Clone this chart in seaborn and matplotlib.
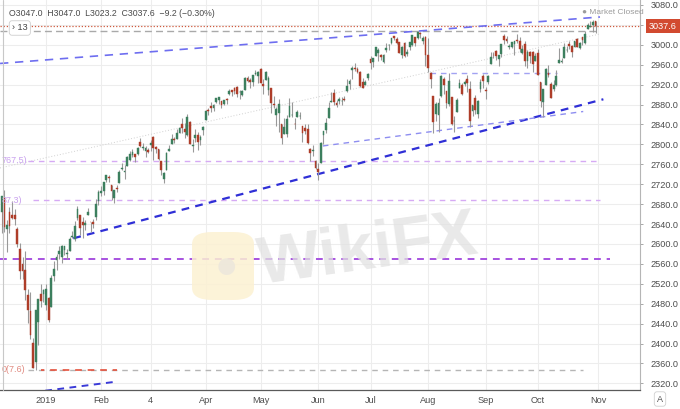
import numpy as np
import pandas as pd
import matplotlib
matplotlib.use("Agg")
import matplotlib.pyplot as plt
import matplotlib.transforms as mtransforms
from matplotlib.patches import FancyBboxPatch
import seaborn as sns

# ── DATA: S&P 500 daily candles, Dec 6 2018 -> Oct 31 2019 ───────────
HOLIDAYS = ["2018-12-25", "2019-01-01", "2019-01-21", "2019-02-18",
            "2019-04-19", "2019-05-27", "2019-07-04", "2019-09-02"]

opens = [
    # Dec 2018
    2663.5, 2691.3, 2630.9, 2664.4, 2658.2, 2658.7, 2629.7, 2590.8, 2559.9, 2547.1, 2496.8, 2465.4, 2400.6, 2363.1, 2442.5, 2498.8, 2498.9,
    # Jan
    2477.0, 2491.9, 2474.3, 2535.6, 2568.1, 2580.0, 2573.5, 2588.1, 2580.3, 2585.1, 2614.8, 2609.3, 2651.3, 2657.9, 2643.5, 2638.8, 2657.4, 2645.0, 2644.9, 2653.6, 2685.5,
    # Feb
    2702.3, 2706.5, 2728.3, 2735.1, 2717.5, 2692.4, 2712.4, 2722.6, 2750.3, 2743.5, 2757.4, 2769.3, 2779.1, 2780.7, 2780.7, 2804.4, 2792.4, 2787.5, 2788.1,
    # Mar
    2798.2, 2814.4, 2794.4, 2790.3, 2766.5, 2730.8, 2747.6, 2787.3, 2799.8, 2810.4, 2810.8, 2822.6, 2840.8, 2831.3, 2819.7, 2844.5, 2796.0, 2812.7, 2819.7, 2809.4, 2828.3,
    # Apr
    2848.6, 2868.2, 2876.1, 2874.0, 2884.2, 2888.5, 2886.6, 2881.4, 2891.9, 2900.9, 2908.3, 2912.3, 2916.0, 2904.8, 2898.8, 2910.0, 2934.0, 2929.0, 2925.8, 2940.6, 2937.1,
    # May
    2952.3, 2922.2, 2929.2, 2908.9, 2913.0, 2879.6, 2859.8, 2863.1, 2840.2, 2820.1, 2820.4, 2855.8, 2858.6, 2841.9, 2854.0, 2856.1, 2836.7, 2832.4, 2830.0, 2790.3, 2786.9, 2766.2,
    # Jun
    2751.5, 2762.6, 2818.1, 2828.5, 2852.9, 2885.8, 2903.3, 2882.7, 2886.2, 2886.8, 2889.8, 2906.7, 2920.6, 2949.6, 2952.7, 2951.4, 2945.8, 2926.1, 2919.7, 2932.9,
    # Jul
    2971.4, 2964.7, 2978.1, 2984.3, 2979.8, 2965.5, 2989.3, 2999.6, 3003.4, 3017.8, 3012.1, 3005.1, 2978.9, 3004.3, 2981.9, 2994.7, 2998.8, 3016.3, 3013.3, 3024.5, 3007.7, 3016.2,
    # Aug
    2980.3, 2943.9, 2898.1, 2861.2, 2858.7, 2896.2, 2930.5, 2907.1, 2880.7, 2894.2, 2846.2, 2864.7, 2913.5, 2919.0, 2922.0, 2930.9, 2911.1, 2866.7, 2893.1, 2861.3, 2910.4, 2937.1,
    # Sep
    2909.0, 2924.7, 2960.6, 2980.3, 2988.4, 2971.0, 2981.4, 3018.2, 3012.2, 2996.4, 2995.7, 3001.5, 3010.4, 3008.4, 2983.5, 3002.4, 2968.4, 2985.7, 2985.5, 2967.1,
    # Oct
    2983.7, 2924.8, 2885.4, 2918.6, 2944.2, 2920.4, 2911.1, 2918.6, 2963.1, 2965.8, 2973.6, 2989.7, 3000.8, 2996.8, 2996.5, 3010.7, 2994.0, 3014.8, 3003.3, 3032.1, 3035.4, 3039.7, 3047.0,
]
highs = [
    2696.1, 2708.5, 2647.5, 2674.4, 2685.4, 2670.2, 2634.0, 2601.1, 2573.0, 2585.3, 2509.6, 2504.4, 2410.3, 2467.8, 2489.1, 2520.3, 2509.2,
    2519.5, 2493.1, 2538.1, 2566.2, 2579.8, 2595.3, 2597.8, 2596.3, 2589.3, 2613.1, 2625.8, 2645.1, 2675.5, 2657.9, 2653.2, 2647.2, 2672.4, 2645.0, 2650.9, 2690.4, 2709.0,
    2716.7, 2725.0, 2739.0, 2738.1, 2719.3, 2708.1, 2718.1, 2748.2, 2761.9, 2757.9, 2775.7, 2787.3, 2789.9, 2781.6, 2794.2, 2813.5, 2803.1, 2795.8, 2793.7,
    2808.0, 2816.9, 2796.4, 2790.3, 2767.3, 2744.1, 2784.0, 2798.3, 2821.2, 2815.0, 2830.7, 2835.4, 2852.4, 2843.5, 2860.3, 2846.2, 2809.8, 2829.9, 2825.6, 2819.7, 2836.0,
    2869.4, 2872.9, 2885.3, 2881.3, 2893.2, 2896.0, 2886.9, 2889.7, 2893.4, 2910.5, 2909.6, 2916.1, 2918.0, 2908.4, 2909.5, 2936.3, 2936.8, 2933.1, 2939.9, 2949.5, 2948.2,
    2954.1, 2931.7, 2947.9, 2937.3, 2913.0, 2898.0, 2876.0, 2891.3, 2840.2, 2852.5, 2858.7, 2892.2, 2885.5, 2853.9, 2868.9, 2865.5, 2836.7, 2841.4, 2840.5, 2792.0, 2799.0, 2769.0,
    2763.1, 2804.5, 2827.3, 2852.1, 2885.0, 2904.8, 2910.6, 2888.6, 2895.2, 2894.5, 2897.3, 2930.8, 2931.7, 2958.1, 2964.2, 2954.9, 2946.5, 2932.6, 2929.3, 2944.0,
    2977.9, 2973.2, 2995.8, 2994.0, 2980.8, 2981.9, 3003.0, 3002.3, 3013.9, 3017.8, 3015.0, 3005.3, 2998.3, 3006.0, 2990.7, 3005.9, 3019.6, 3016.3, 3028.0, 3025.6, 3017.2, 3017.4,
    3013.6, 2945.5, 2898.1, 2884.4, 2892.2, 2938.7, 2935.8, 2907.6, 2943.3, 2894.2, 2856.7, 2893.6, 2931.0, 2923.6, 2928.7, 2939.1, 2927.0, 2879.3, 2898.8, 2890.0, 2930.5, 2940.4,
    2914.4, 2938.8, 2985.9, 2985.0, 2989.4, 2979.4, 3000.9, 3020.7, 3017.3, 3002.2, 3006.2, 3007.8, 3022.0, 3016.4, 2999.2, 3008.0, 2989.8, 2987.3, 2987.3, 2983.9,
    2992.5, 2924.8, 2911.1, 2953.7, 2959.8, 2925.5, 2929.3, 2948.5, 2993.3, 2972.8, 3003.3, 2997.5, 3008.3, 3000.0, 3007.3, 3014.6, 3004.8, 3016.1, 3027.4, 3044.1, 3047.9, 3050.1, 3047.0,
]
lows = [
    2621.5, 2623.1, 2583.2, 2621.3, 2650.3, 2637.3, 2593.2, 2530.5, 2528.7, 2488.0, 2441.2, 2408.6, 2351.1, 2346.6, 2397.9, 2472.9, 2482.8,
    2467.5, 2444.0, 2474.3, 2524.6, 2547.6, 2568.9, 2562.0, 2577.4, 2570.4, 2585.1, 2612.7, 2606.4, 2647.6, 2617.3, 2612.9, 2627.0, 2657.3, 2624.1, 2631.1, 2648.3, 2678.7,
    2696.9, 2698.8, 2724.0, 2724.2, 2687.3, 2681.8, 2703.8, 2722.6, 2748.6, 2731.2, 2757.4, 2767.3, 2774.1, 2764.6, 2779.1, 2795.0, 2789.5, 2775.1, 2782.5,
    2787.4, 2767.7, 2783.0, 2768.7, 2739.1, 2722.3, 2747.6, 2786.7, 2799.8, 2803.5, 2810.8, 2822.0, 2823.3, 2812.4, 2817.4, 2800.5, 2785.0, 2804.0, 2787.7, 2798.8, 2819.2,
    2848.6, 2858.8, 2865.2, 2867.1, 2883.0, 2880.8, 2873.3, 2879.1, 2882.0, 2898.4, 2896.5, 2900.7, 2895.5, 2891.9, 2896.4, 2908.5, 2926.1, 2912.8, 2917.6, 2939.4, 2924.1,
    2923.4, 2900.5, 2929.2, 2898.2, 2862.6, 2873.3, 2836.4, 2825.4, 2801.4, 2820.1, 2815.1, 2855.8, 2854.2, 2831.3, 2854.0, 2851.1, 2805.5, 2820.2, 2801.6, 2766.1, 2776.7, 2750.5,
    2728.8, 2762.6, 2800.9, 2822.5, 2852.9, 2885.5, 2878.5, 2874.7, 2882.0, 2879.6, 2887.3, 2905.4, 2911.4, 2931.5, 2946.9, 2944.1, 2916.0, 2913.0, 2918.6, 2929.1,
    2952.2, 2955.9, 2978.0, 2968.0, 2970.1, 2963.4, 2984.6, 2988.8, 3001.9, 3008.8, 3001.2, 2984.3, 2973.1, 2975.9, 2976.7, 2988.6, 2996.8, 2997.2, 3012.6, 3014.3, 3000.9, 2958.1,
    2945.2, 2914.1, 2822.1, 2847.4, 2825.7, 2894.5, 2900.2, 2873.1, 2877.1, 2839.6, 2825.5, 2864.7, 2913.5, 2899.6, 2917.9, 2904.5, 2835.0, 2856.0, 2860.6, 2853.1, 2905.7, 2913.3,
    2891.9, 2921.9, 2960.6, 2972.5, 2969.4, 2957.0, 2975.3, 3000.9, 3002.9, 2990.7, 2993.7, 2978.6, 3003.2, 2984.7, 2982.2, 2957.7, 2952.9, 2963.7, 2945.5, 2967.1,
    2938.7, 2874.9, 2855.9, 2918.6, 2935.7, 2892.7, 2907.4, 2917.1, 2963.1, 2962.9, 2973.6, 2985.2, 2991.8, 2976.3, 2995.4, 2995.0, 2991.2, 3000.4, 3001.9, 3032.1, 3034.8, 3026.0, 3023.2,
]
closes = [
    2695.9, 2633.1, 2637.7, 2636.8, 2651.1, 2650.5, 2599.0, 2545.9, 2546.2, 2507.0, 2467.4, 2416.6, 2351.1, 2467.7, 2488.8, 2485.7, 2506.9,
    2510.0, 2447.9, 2531.9, 2549.7, 2574.4, 2585.0, 2596.6, 2596.3, 2582.6, 2610.3, 2616.1, 2636.0, 2670.7, 2632.9, 2638.7, 2642.3, 2664.8, 2643.9, 2640.0, 2681.1, 2704.1,
    2706.5, 2724.9, 2737.7, 2731.6, 2706.1, 2707.9, 2709.8, 2744.7, 2753.0, 2745.7, 2775.6, 2779.8, 2784.7, 2774.9, 2792.7, 2796.1, 2793.9, 2792.4, 2784.5,
    2803.7, 2792.8, 2789.7, 2771.5, 2748.9, 2743.1, 2783.3, 2791.5, 2810.9, 2808.5, 2822.5, 2832.9, 2832.6, 2824.2, 2854.9, 2800.7, 2798.4, 2818.5, 2805.4, 2815.4, 2834.4,
    2867.2, 2867.2, 2873.4, 2879.4, 2892.7, 2895.8, 2878.2, 2888.2, 2888.3, 2907.4, 2905.6, 2907.1, 2900.5, 2905.0, 2908.0, 2933.7, 2927.3, 2926.2, 2939.9, 2943.0, 2945.8,
    2923.7, 2917.5, 2945.6, 2932.5, 2884.1, 2879.4, 2870.7, 2881.4, 2811.9, 2834.4, 2851.0, 2876.3, 2859.5, 2840.2, 2864.4, 2856.3, 2822.2, 2826.1, 2802.4, 2783.0, 2788.9, 2752.1,
    2744.5, 2803.3, 2826.2, 2843.5, 2873.3, 2886.7, 2885.7, 2879.8, 2891.6, 2887.0, 2889.7, 2917.8, 2926.5, 2954.2, 2950.5, 2945.4, 2917.4, 2913.8, 2924.9, 2941.8,
    2964.3, 2973.0, 2995.8, 2990.4, 2976.0, 2979.6, 2993.1, 2999.9, 3013.8, 3014.3, 3004.0, 2984.4, 2995.1, 2976.6, 2985.0, 3005.5, 3019.6, 3003.7, 3025.9, 3021.0, 3013.2, 2980.4,
    2953.6, 2932.1, 2844.7, 2881.8, 2884.0, 2938.1, 2918.7, 2882.7, 2926.3, 2840.6, 2847.6, 2888.7, 2923.7, 2900.5, 2924.4, 2923.0, 2847.1, 2878.4, 2869.2, 2887.9, 2924.6, 2926.5,
    2906.3, 2937.8, 2976.0, 2978.7, 2978.4, 2979.4, 3000.9, 3009.6, 3007.4, 2998.0, 3005.7, 3006.7, 3006.8, 2992.1, 2991.8, 2966.6, 2984.9, 2977.6, 2961.8, 2976.7,
    2940.3, 2887.6, 2910.6, 2952.0, 2938.8, 2893.1, 2919.4, 2938.1, 2970.3, 2966.2, 2995.7, 2989.7, 2998.0, 2986.2, 3006.7, 2996.0, 3004.5, 3010.3, 3022.6, 3039.4, 3036.9, 3046.8, 3037.6,
]

month_labels = ["2019", "Feb", "4", "Apr", "May", "Jun", "Jul", "Aug", "Sep", "Oct", "Nov"]
price_ticks = list(range(2320, 3081, 40))
last_price = 3037.6

# fibonacci levels drawn on the chart (price, label seen at the left edge)
fib_top = 3027.0
fib_618, fib_618_label = 2767.5, "767.5)"
fib_50, fib_50_label = 2687.3, "87.3)"
fib_0, fib_0_label = 2347.6, "0(7.6)"
purple_level = 2570.0
box_level = 2942.5

# trend lines as (bar index, price) anchor pairs
upper_trend = ([-0.6, 228.7], [2962.5, 3055.9])
main_trend = ([27.4, 230.0], [2611.3, 2890.6])
bottom_trend = ([12.0, 43.9], [2302.0, 2323.4])
lower_channel = ([122.8, 222.3], [2796.8, 2866.0])
faint_trend = ([-0.6, 228.7], [2752.6, 3021.8])

header = "O3047.0  H3047.0  L3023.2  C3037.6  \u22129.2 (\u22120.30%)"

# ── STYLE ────────────────────────────────────────────────────────────
sns.set_theme(style="white")
plt.rcParams['font.family'] = ['Liberation Sans', 'DejaVu Sans']

GREEN = "#3c7f5e"
RED = "#ae3d29"
WICK = "#999999"
TXT = "#4d4d4d"

dates = pd.bdate_range("2018-12-06", "2019-10-31")
dates = dates[~dates.isin(pd.to_datetime(HOLIDAYS))]
df = pd.DataFrame({"date": dates, "open": opens, "high": highs,
                   "low": lows, "close": closes})
df["x"] = np.arange(len(df))
up = df["close"] >= df["open"]
df["color"] = np.where(up, GREEN, RED)

fig = plt.figure(figsize=(6.8, 4.09), dpi=100)
ax = fig.add_axes([0, 19 / 409, 640 / 680, 390 / 409])

# candles
ax.vlines(df["x"], df["low"], df["high"], colors=WICK, linewidth=0.8, zorder=3)
body = (df["close"] - df["open"]).abs().clip(lower=0.8)
ax.bar(df["x"], body, bottom=df[["open", "close"]].min(axis=1), width=0.68,
       color=df["color"], edgecolor=df["color"], linewidth=0.3, zorder=4)

# horizontal levels
ax.axhline(last_price, color="#cf5a3e", linewidth=0.9, linestyle=(0, (1, 1.5)), zorder=2)
ax.hlines(fib_top, -0.6, 227.6, color="#a9a9a9", linewidth=1.0, linestyle=(0, (5, 3)), zorder=2)
ax.hlines(fib_618, 10.1, 228.7, color="#d6aaf4", linewidth=1.0, linestyle=(0, (4, 3.5)), zorder=2)
ax.hlines(fib_50, 12.0, 228.7, color="#d6aaf4", linewidth=1.0, linestyle=(0, (4, 3.5)), zorder=2)
ax.hlines(fib_0, 10.1, 222.3, color="#b5b5b5", linewidth=1.0, linestyle=(0, (4, 3.5)), zorder=2)
ax.hlines(fib_0, 15.1, 44.1, color="#e5513c", linewidth=1.2, linestyle=(2, (4, 3.5)), zorder=2)
ax.hlines(purple_level, -0.6, 232.6, color="#a752e0", linewidth=1.4, linestyle=(0, (3.5, 3)), zorder=2)
ax.hlines(box_level, 163.7, 212.3, color="#a2a2f2", linewidth=1.0, linestyle=(0, (4, 3.5)), zorder=2)

# trend lines
ax.plot(*upper_trend, color="#6e6ef0", linewidth=1.2, linestyle=(0, (5, 4)), zorder=2)
ax.plot(*main_trend, color="#2f2fd6", linewidth=1.6, linestyle=(0, (3.5, 2.8)), zorder=2)
ax.plot(*bottom_trend, color="#3a3ad8", linewidth=1.4, linestyle=(0, (3.5, 2.8)), zorder=2)
ax.plot(*lower_channel, color="#8e8ef0", linewidth=1.0, linestyle=(0, (4, 3.5)), zorder=2)
ax.plot(*faint_trend, color="#d0d0d0", linewidth=0.7, linestyle=(0, (1, 2)), zorder=1)

# fib labels on the left
for lvl, lab, col in [(fib_618, fib_618_label, "#c8a0ee"),
                      (fib_50, fib_50_label, "#c8a0ee"),
                      (fib_0, fib_0_label, "#e08a80")]:
    ax.text(0.0, lvl, lab, fontsize=6.5, color=col, va="center", ha="left", zorder=5)

# axes ranges & ticks
month_start = df.groupby(df["date"].dt.to_period("M"))["x"].min()
xt = [month_start[p] for p in month_start.index if p.year == 2019] + [len(df)]
ax.set_xlim(-0.62, 244.0)
ax.set_ylim(2306.6, 3090)
ax.set_xticks(xt)
ax.set_xticklabels(month_labels)
ax.set_yticks(price_ticks)
ax.set_yticklabels([f"{v:.1f}" for v in price_ticks])
ax.yaxis.tick_right()
ax.tick_params(axis="y", length=2.5, pad=5, labelsize=6.6, labelcolor=TXT, color="#9a9a9a", width=0.6)
ax.tick_params(axis="x", length=0, pad=4, labelsize=6.6, labelcolor=TXT)
ax.grid(True, color="#ededed", linewidth=0.8, zorder=0)
ax.set_axisbelow(True)
for s in ["top", "left"]:
    ax.spines[s].set_visible(False)
ax.spines["right"].set_color("#b5b5b5")
ax.spines["right"].set_linewidth(0.8)
ax.spines["bottom"].set_color("#5a5a5a")
ax.spines["bottom"].set_linewidth(0.9)

# price label on the axis
trans = mtransforms.blended_transform_factory(ax.transAxes, ax.transData)
ax.text(1.014, last_price, "3037.6", transform=trans, fontsize=6.6, color="white",
        va="center", ha="left", clip_on=False, zorder=6,
        bbox=dict(boxstyle="square,pad=0.3", facecolor="#d24a30", edgecolor="none"))

# left edge line
fig.add_artist(plt.Line2D([3 / 680, 3 / 680], [19 / 409, 1], color="#c8c8c8", linewidth=0.8))

# header texts
fig.text(9 / 680, 1 - 14 / 409, header, fontsize=6.3, color="#4a4a4a", va="center", ha="left")
fig.text(12 / 680, 1 - 28 / 409, "\u203a 13", fontsize=6.6, color="#444444", va="center", ha="left",
         bbox=dict(boxstyle="round,pad=0.3", facecolor="white", edgecolor="#cfcfcf", linewidth=0.6))
fig.text(582 / 680, 1 - 13 / 409, "\u25cf Market Closed", fontsize=6.0, color="#9c9c9c", va="center", ha="left")
fig.text(660 / 680, 1 - 399 / 409, "A", fontsize=6.5, color="#555555", va="center", ha="center",
         bbox=dict(boxstyle="round,pad=0.3", facecolor="white", edgecolor="#d0d0d0", linewidth=0.6))

# watermark
logo = FancyBboxPatch((192 / 680, 1 - 300 / 409), 62 / 680, 68 / 409,
                      boxstyle="round,pad=0.0,rounding_size=0.03",
                      transform=fig.transFigure, facecolor="#fcf1d2", edgecolor="none",
                      alpha=0.85, zorder=1)
fig.add_artist(logo)
fig.text(226 / 680, 1 - 268 / 409, "\u25cf", fontsize=28, color="#ebe6dc", ha="center", va="center", alpha=0.8)
fig.text(368 / 680, 1 - 252 / 409, "WikiFX", fontsize=48, fontweight="bold", color="#e2e2e2",
         ha="center", va="center", rotation=8, alpha=0.75, zorder=1)

fig.savefig("out.png", dpi=100)
